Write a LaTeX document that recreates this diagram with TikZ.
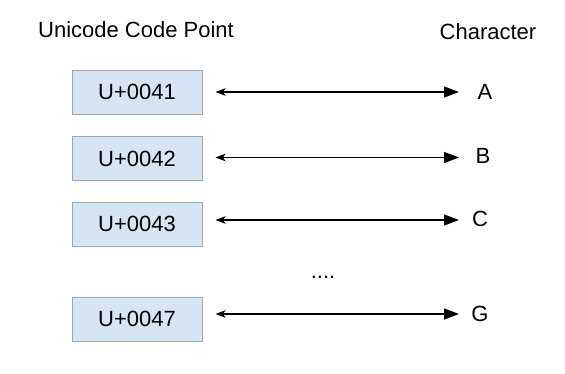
\documentclass[tikz,border=0pt]{standalone}
\usepackage{fontspec}
\setmainfont{Liberation Sans}
\usetikzlibrary{arrows.meta}
\definecolor{boxfill}{HTML}{D6E5F4}
\definecolor{boxline}{HTML}{A6A6A6}
\tikzset{
  cpbox/.style={draw=boxline, line width=1pt, fill=boxfill, minimum width=130pt, minimum height=44pt, inner sep=0pt, font=\fontsize{22}{26}\selectfont},
  lbl/.style={inner sep=0pt, font=\fontsize{22}{26}\selectfont},
  chr/.style={inner sep=0pt, font=\fontsize{22}{26}\selectfont},
  biarrow/.style={line width=1.3pt, {Stealth[length=10pt,width=7.5pt,inset=2.5pt]}-{Triangle[length=15pt,width=11pt]}}
}
\begin{document}
\begin{tikzpicture}[x=1pt,y=-1pt]
\useasboundingbox (0,0) rectangle (565,373);
\node[lbl] (h1) at (136,30) {Unicode Code Point};
\node[lbl] (h2) at (488,32) {Character};
\node[cpbox] (b1) at (137,92) {U+0041};
\node[cpbox] (b2) at (137,158.5) {U+0042};
\node[cpbox] (b3) at (137,224) {U+0043};
\node[cpbox] (b4) at (137,319) {U+0047};
\node[chr] (c1) at (485,92) {A};
\node[chr] (c2) at (483,156) {B};
\node[chr] (c3) at (480,218.5) {C};
\node[chr] (c4) at (480,313.5) {G};
\node[lbl] (dots) at (323,277) {....};
\coordinate (e1) at (459,92);
\coordinate (e2) at (459,157.5);
\coordinate (e3) at (459,220);
\coordinate (e4) at (459,314);
\draw[biarrow] ([xshift=13pt]b1.east |- e1) -- (e1);
\draw[biarrow] ([xshift=13pt]b2.east |- e2) -- (e2);
\draw[biarrow] ([xshift=13pt]b3.east |- e3) -- (e3);
\draw[biarrow] ([xshift=13pt]b4.east |- e4) -- (e4);
\end{tikzpicture}
\end{document}
